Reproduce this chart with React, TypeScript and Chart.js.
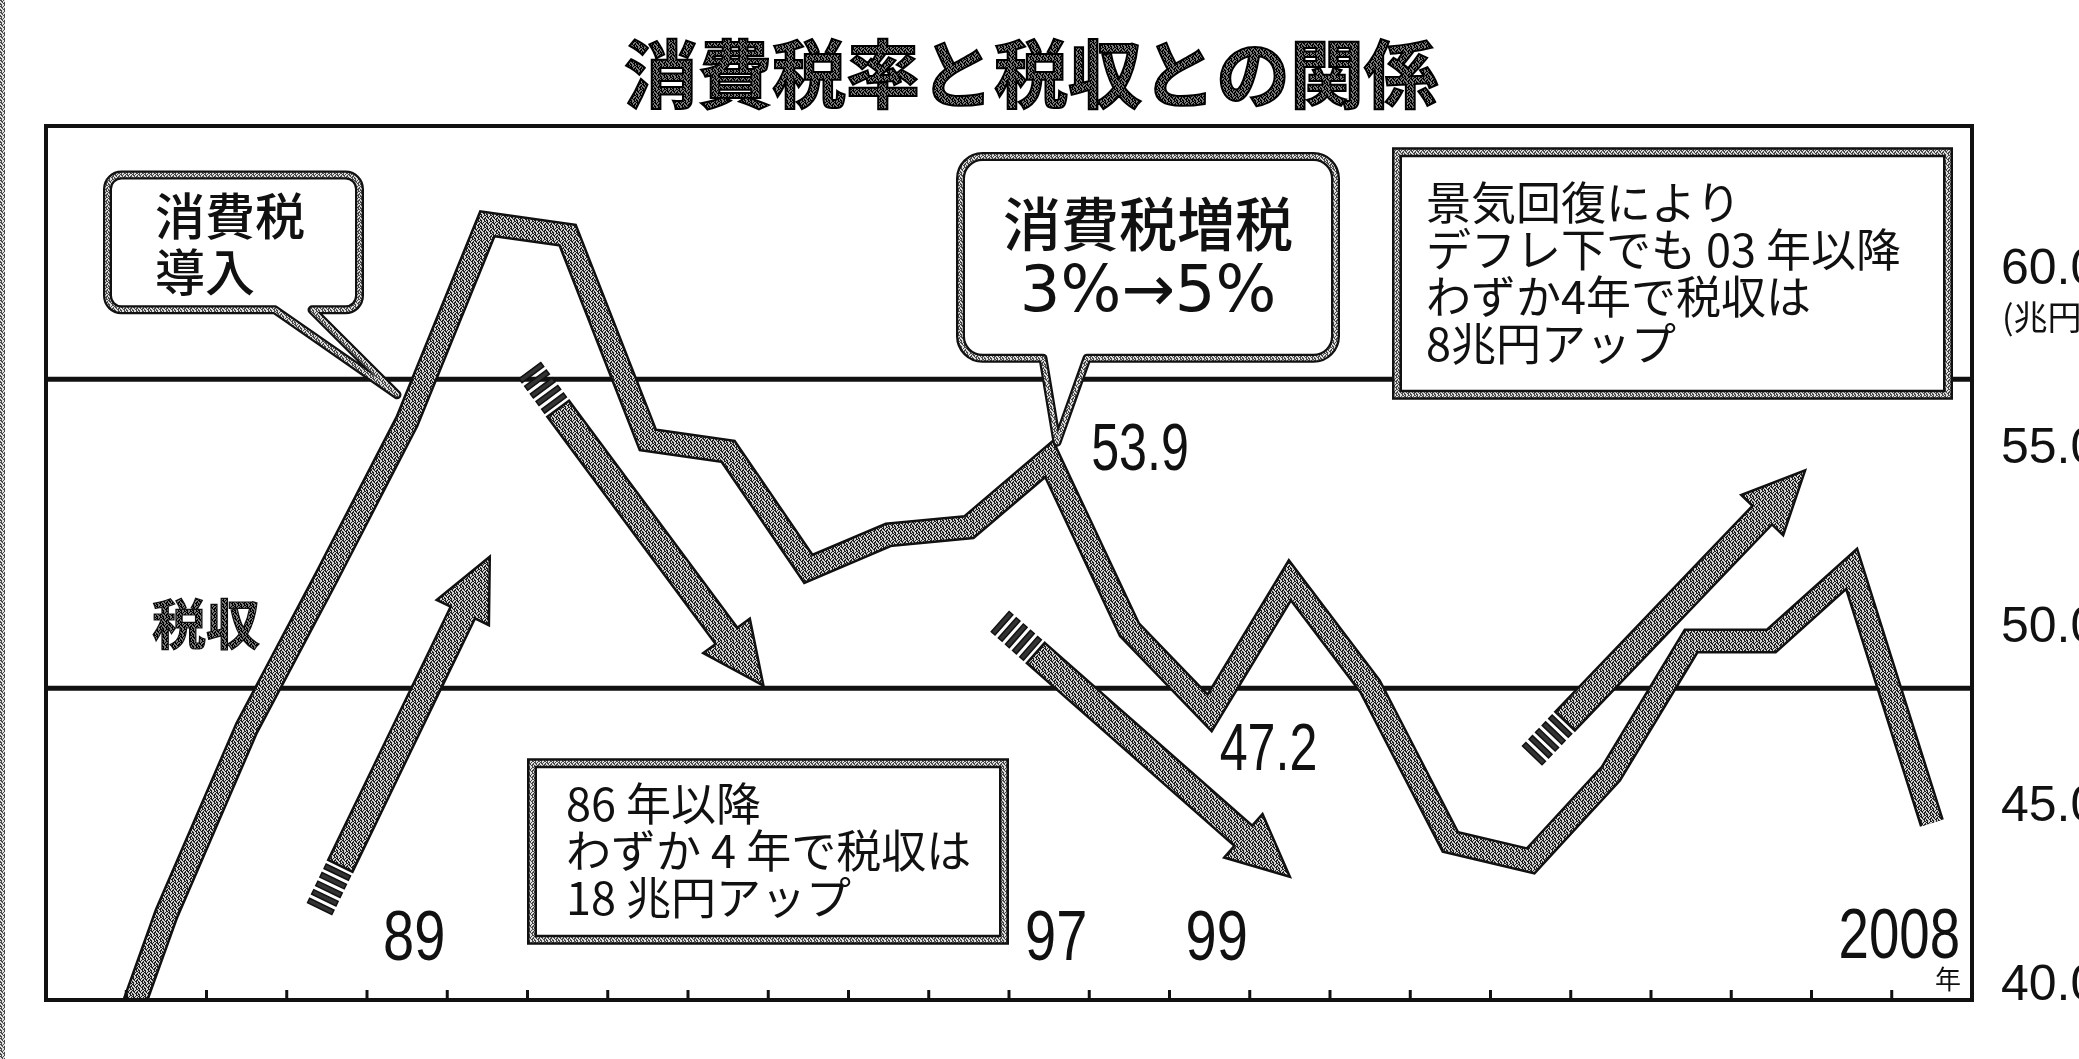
import { useEffect, useRef } from "react";
import { Chart, registerables } from "chart.js";

Chart.register(...registerables);

// ---------- data ----------
const YEARS = ["1985", "1986", "1987", "1988", "1989", "1990", "1991", "1992", "1993", "1994", "1995", "1996",
  "1997", "1998", "1999", "2000", "2001", "2002", "2003", "2004", "2005", "2006", "2007", "2008"];
const TAX_REVENUE = [36.0, 41.9, 46.8, 50.8, 54.9, 60.1, 59.8, 54.4, 54.1, 51.0, 51.9, 52.1,
  53.9, 49.4, 47.2, 50.7, 47.9, 43.8, 43.3, 45.6, 49.1, 49.1, 51.0, 44.3];
const AXIS_TICKS = [40, 45, 50, 55, 60];
const AXIS_UNIT = "(兆円)";
const GUIDE_LEVELS = [56.0, 47.85];
const YEAR_LABEL_AT = ["1989", "1997", "1999", "2008"];
const YEAR_LABELS = ["89", "97", "99", "2008"];
const YEAR_UNIT = "年";
const VALUE_LABEL_AT = ["1997", "1999"];
const TITLE = "消費税率と税収との関係";
const SERIES_NAME = "税収";
const NOTE_INTRO = ["消費税", "導入"];
const NOTE_HIKE = ["消費税増税", "3%→5%"];
const NOTE_RECOVERY = ["景気回復により", "デフレ下でも 03 年以降", "わずか4年で税収は", "8兆円アップ"];
const NOTE_BUBBLE = ["86 年以降", "わずか 4 年で税収は", "18 兆円アップ"];
// trend arrows in data space: [from category index, from value, to category index, to value]
const TREND_ARROWS = [
  [2.91, 42.04, 5.03, 51.32],
  [5.53, 56.23, 8.44, 47.92],
  [11.39, 49.61, 15.0, 42.88],
  [18.02, 46.08, 21.42, 53.6],
];

// ---------- layout / style ----------
const Y_MIN = 39.63;
const Y_MAX = 62.68;
const YR_MIN = 39.62;
const YR_MAX = 64.04;
const FRAME = { left: 46, top: 126, right: 1972, bottom: 1027 };
const JP = "'Noto Sans CJK JP', sans-serif";
const LAT = "'Liberation Sans', Arial, sans-serif";

function makePattern(dark: string, light: string) {
  const c = document.createElement("canvas");
  c.width = 6;
  c.height = 6;
  const g = c.getContext("2d")!;
  g.fillStyle = light;
  g.fillRect(0, 0, 6, 6);
  g.fillStyle = dark;
  const bits = ["110100", "011001", "001011", "100110", "110010", "010011"];
  bits.forEach((row, y) => row.split("").forEach((b, x) => { if (b === "1") g.fillRect(x, y, 1, 1); }));
  return g.createPattern(c, "repeat")!;
}

function drawText(ctx: CanvasRenderingContext2D, s: string, x: number, y: number, font: string,
  align: CanvasTextAlign = "left", baseline: CanvasTextBaseline = "middle", sx = 1, color = "#111") {
  ctx.save();
  ctx.font = font;
  ctx.textAlign = align;
  ctx.textBaseline = baseline;
  ctx.fillStyle = color;
  ctx.translate(x, y);
  ctx.scale(sx, 1);
  ctx.fillText(s, 0, 0);
  ctx.restore();
}

function calloutPath(ctx: CanvasRenderingContext2D, x: number, y: number, w: number, h: number, r: number,
  tl: number, tr: number, tx: number, ty: number) {
  ctx.beginPath();
  ctx.moveTo(x + r, y);
  ctx.lineTo(x + w - r, y);
  ctx.arcTo(x + w, y, x + w, y + r, r);
  ctx.lineTo(x + w, y + h - r);
  ctx.arcTo(x + w, y + h, x + w - r, y + h, r);
  ctx.lineTo(tr, y + h);
  ctx.lineTo(tx, ty);
  ctx.lineTo(tl, y + h);
  ctx.lineTo(x + r, y + h);
  ctx.arcTo(x, y + h, x, y + h - r, r);
  ctx.lineTo(x, y + r);
  ctx.arcTo(x, y, x + r, y, r);
  ctx.closePath();
}

function doubleStroke(ctx: CanvasRenderingContext2D, inner: CanvasPattern) {
  ctx.fillStyle = "#fff";
  ctx.fill();
  ctx.lineJoin = "round";
  ctx.strokeStyle = "#111";
  ctx.lineWidth = 9;
  ctx.stroke();
  ctx.strokeStyle = inner;
  ctx.lineWidth = 4.5;
  ctx.stroke();
}

function drawArrow(ctx: CanvasRenderingContext2D, x0: number, y0: number, x1: number, y1: number, fill: CanvasPattern) {
  const dx = x1 - x0, dy = y1 - y0;
  const L = Math.hypot(dx, dy);
  const ux = dx / L, uy = dy / L, nx = -uy, ny = ux;
  const half = 13.5, headLen = 62, headHalf = 29;
  const stripes = 5, sw = 5, gap = 4.5;
  const p = (t: number, s: number): [number, number] => [x0 + ux * t + nx * s, y0 + uy * t + ny * s];
  const s0 = stripes * (sw + gap);
  const pts = [p(s0, -half), p(L - headLen, -half), p(L - headLen, -headHalf), p(L, 0),
    p(L - headLen, headHalf), p(L - headLen, half), p(s0, half)];
  ctx.save();
  ctx.beginPath();
  pts.forEach(([a, b], i) => (i ? ctx.lineTo(a, b) : ctx.moveTo(a, b)));
  ctx.closePath();
  ctx.fillStyle = fill;
  ctx.fill();
  ctx.lineJoin = "miter";
  ctx.strokeStyle = "#111";
  ctx.lineWidth = 2.5;
  ctx.stroke();
  for (let i = 0; i < stripes; i++) {
    const t = i * (sw + gap);
    const q = [p(t, -half), p(t + sw, -half), p(t + sw, half), p(t, half)];
    ctx.beginPath();
    q.forEach(([a, b], k) => (k ? ctx.lineTo(a, b) : ctx.moveTo(a, b)));
    ctx.closePath();
    ctx.fillStyle = "#333";
    ctx.fill();
    ctx.lineWidth = 1.5;
    ctx.stroke();
  }
  ctx.restore();
}

export default function App() {
  const ref = useRef<HTMLCanvasElement>(null);

  useEffect(() => {
    const canvas = ref.current!;
    const bandFill = makePattern("#1e1e1e", "#d2d2d2");
    const darkFill = makePattern("#000000", "#7a7a7a");
    const lightFill = makePattern("#4a4a4a", "#dedede");

    const decor = {
      id: "decor",
      beforeDatasetsDraw(chart: any) {
        const ctx: CanvasRenderingContext2D = chart.ctx;
        const ca = chart.chartArea;
        const y = chart.scales.y;
        ctx.save();
        // scan edge strip
        ctx.strokeStyle = lightFill;
        ctx.lineWidth = 5;
        ctx.beginPath();
        ctx.moveTo(2.5, 0);
        ctx.lineTo(2.5, chart.height);
        ctx.stroke();
        // guide lines
        ctx.strokeStyle = "#111";
        ctx.lineWidth = 5;
        GUIDE_LEVELS.forEach((v) => {
          const py = y.getPixelForValue(v);
          ctx.beginPath();
          ctx.moveTo(ca.left, py);
          ctx.lineTo(ca.right, py);
          ctx.stroke();
        });
        ctx.restore();
      },
      afterDatasetsDraw(chart: any) {
        const ctx: CanvasRenderingContext2D = chart.ctx;
        const ca = chart.chartArea;
        const x = chart.scales.x;
        const y = chart.scales.y;
        const yr = chart.scales.yr;
        const fx = (px: number) => ca.left + ((px - FRAME.left) * (ca.right - ca.left)) / (FRAME.right - FRAME.left);
        const fy = (py: number) => ca.top + ((py - FRAME.top) * (ca.bottom - ca.top)) / (FRAME.bottom - FRAME.top);
        ctx.save();

        // trend arrows
        TREND_ARROWS.forEach(([i0, v0, i1, v1]) => {
          drawArrow(ctx, x.getPixelForValue(i0), y.getPixelForValue(v0), x.getPixelForValue(i1), y.getPixelForValue(v1), bandFill);
        });

        // callout: 消費税導入
        calloutPath(ctx, fx(107.5), fy(176.5), fx(359.5) - fx(107.5), fy(315.5) - fy(176.5), 14, fx(275), fx(312), fx(397), fy(403));
        doubleStroke(ctx, lightFill);
        drawText(ctx, NOTE_INTRO[0], fx(155), fy(219), `500 50px ${JP}`);
        drawText(ctx, NOTE_INTRO[1], fx(155), fy(277), `500 50px ${JP}`);

        // callout: 消費税増税
        calloutPath(ctx, fx(960.5), fy(157.5), fx(1335.5) - fx(960.5), fy(365.5) - fy(157.5), 22, fx(1043), fx(1087), fx(1057), fy(452));
        doubleStroke(ctx, lightFill);
        drawText(ctx, NOTE_HIKE[0], fx(1148), fy(227), `500 58px ${JP}`, "center");
        drawText(ctx, NOTE_HIKE[1], fx(1148), fy(300), `64px 'DejaVu Sans', sans-serif`, "center");

        // boxes
        const box = (l: number, t: number, r: number, b: number) => {
          ctx.beginPath();
          ctx.rect(fx(l + 5), fy(t + 5), fx(r - 5) - fx(l + 5), fy(b - 5) - fy(t + 5));
          ctx.fillStyle = "#fff";
          ctx.fill();
          ctx.lineJoin = "miter";
          ctx.strokeStyle = "#111";
          ctx.lineWidth = 10;
          ctx.stroke();
          ctx.strokeStyle = lightFill;
          ctx.lineWidth = 5;
          ctx.stroke();
        };
        box(1392, 148, 1953, 408);
        NOTE_RECOVERY.forEach((s, i) => drawText(ctx, s, fx(1426), fy(205 + i * 48.5), `45px ${JP}`));
        box(527, 778, 1009, 970);
        NOTE_BUBBLE.forEach((s, i) => drawText(ctx, s, fx(566), fy(825 + i * 48.5), `45px ${JP}`));

        // series name
        ctx.font = `bold 54px ${JP}`;
        ctx.textAlign = "center";
        ctx.textBaseline = "middle";
        ctx.fillStyle = darkFill;
        ctx.fillText(SERIES_NAME, fx(206), fy(640));
        ctx.strokeStyle = "#111";
        ctx.lineWidth = 1.2;
        ctx.strokeText(SERIES_NAME, fx(206), fy(640));

        // year labels
        YEAR_LABEL_AT.forEach((yr0, k) => {
          const px = x.getPixelForValue(YEARS.indexOf(yr0));
          if (k === YEAR_LABEL_AT.length - 1) {
            drawText(ctx, YEAR_LABELS[k], ca.right - 12, ca.bottom - 42, `70px ${LAT}`, "right", "alphabetic", 0.78);
          } else {
            drawText(ctx, YEAR_LABELS[k], px + 7, ca.bottom - 40, `70px ${LAT}`, "center", "alphabetic", 0.8);
          }
        });
        drawText(ctx, YEAR_UNIT, ca.right - 11, ca.bottom - 11, `26px ${JP}`, "right", "alphabetic");

        // value labels
        VALUE_LABEL_AT.forEach((yr0, k) => {
          const i = YEARS.indexOf(yr0);
          const v = TAX_REVENUE[i];
          const px = x.getPixelForValue(i);
          const py = y.getPixelForValue(v);
          if (k === 0) drawText(ctx, v.toFixed(1), px + 42, py + 11, `67px ${LAT}`, "left", "alphabetic", 0.75);
          else drawText(ctx, v.toFixed(1), px + 10, py + 57, `67px ${LAT}`, "left", "alphabetic", 0.75);
        });

        // frame
        ctx.strokeStyle = "#111";
        ctx.lineWidth = 4;
        ctx.strokeRect(ca.left, ca.top, ca.right - ca.left, ca.bottom - ca.top);
        // inward ticks at category boundaries
        ctx.lineWidth = 3;
        for (let i = 1; i < YEARS.length; i++) {
          const bx = (x.getPixelForValue(i - 1) + x.getPixelForValue(i)) / 2;
          ctx.beginPath();
          ctx.moveTo(bx, ca.bottom);
          ctx.lineTo(bx, ca.bottom - 10);
          ctx.stroke();
        }

        // axis unit
        drawText(ctx, AXIS_UNIT, yr.left + 30, yr.getPixelForValue(AXIS_TICKS[AXIS_TICKS.length - 1]) + 46, `34px ${JP}`);

        // title
        ctx.font = `bold 74px ${JP}`;
        ctx.textAlign = "center";
        ctx.textBaseline = "middle";
        ctx.fillStyle = darkFill;
        ctx.fillText(TITLE, fx(1031), 74);
        ctx.strokeStyle = "#000";
        ctx.lineWidth = 2;
        ctx.strokeText(TITLE, fx(1031), 74);
        ctx.restore();
      },
    };

    const chart = new Chart(canvas, {
      type: "line",
      data: {
        labels: YEARS,
        datasets: [
          // drawn last (on top): textured fill of the band
          {
            data: TAX_REVENUE, borderColor: bandFill, borderWidth: 20, pointRadius: 0,
            borderJoinStyle: "miter", borderCapStyle: "butt", tension: 0, clip: 0, yAxisID: "y",
          },
          // drawn first: black outline of the band
          {
            data: TAX_REVENUE, borderColor: "#111", borderWidth: 25, pointRadius: 0,
            borderJoinStyle: "miter", borderCapStyle: "butt", tension: 0, clip: 0, yAxisID: "y",
          },
        ],
      } as any,
      options: {
        responsive: false,
        animation: false,
        events: [],
        layout: { padding: { left: FRAME.left, top: FRAME.top, right: 0, bottom: 1059 - FRAME.bottom } },
        plugins: { legend: { display: false }, tooltip: { enabled: false }, title: { display: false } },
        scales: {
          x: { type: "category", display: false, offset: true },
          y: { type: "linear", display: false, min: Y_MIN, max: Y_MAX },
          yr: {
            type: "linear",
            position: "right",
            min: YR_MIN,
            max: YR_MAX,
            grid: { display: false, drawTicks: false },
            border: { display: false },
            ticks: {
              padding: 29,
              color: "#111",
              font: { family: "'Liberation Sans', Arial, sans-serif", size: 50 },
              callback: (v: any) => Number(v).toFixed(1),
            },
            afterBuildTicks: (s: any) => { s.ticks = AXIS_TICKS.map((v) => ({ value: v })); },
            afterFit: (s: any) => { s.width = 2079 - FRAME.right; },
          },
        },
      } as any,
      plugins: [decor],
    });
    return () => chart.destroy();
  }, []);

  return (
    <div style={{ position: "fixed", left: 0, top: 0, width: 2079, height: 1059, background: "#fff" }}>
      <canvas ref={ref} width={2079} height={1059} style={{ display: "block", width: 2079, height: 1059 }} />
    </div>
  );
}
